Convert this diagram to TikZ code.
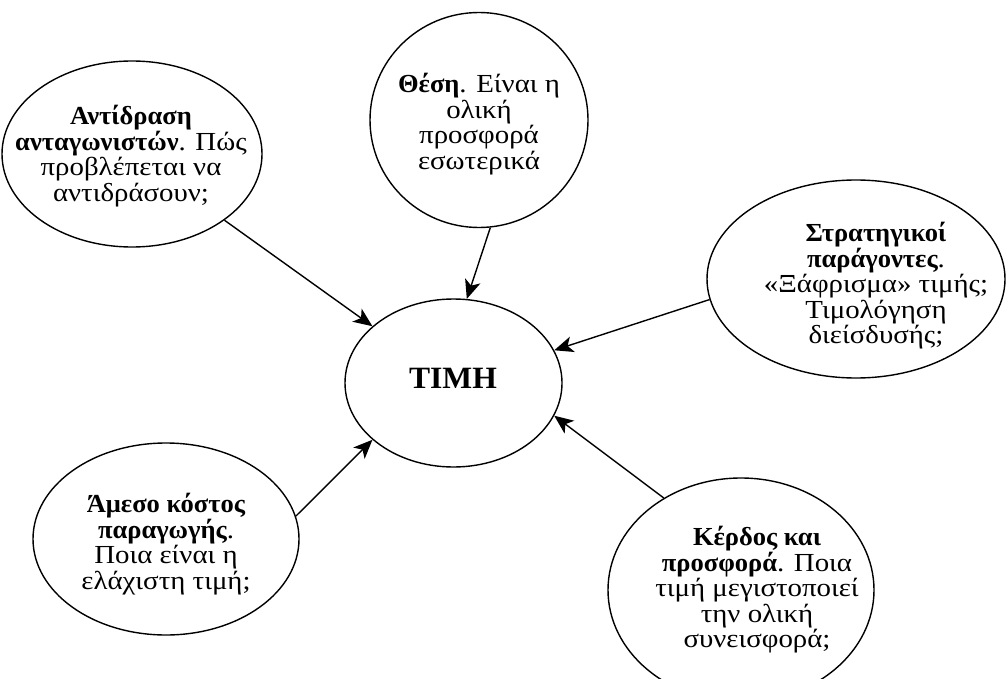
\documentclass[tikz,border=0pt]{standalone}
\usepackage{fontspec}
\setmainfont{Liberation Serif}[UprightFeatures={FakeStretch=1.11},BoldFeatures={FakeStretch=1.02}]
\usetikzlibrary{shapes.geometric,arrows.meta}
\begin{document}
\begin{tikzpicture}[x=1pt,y=-1pt,
  bub/.style={draw, ellipse, line width=1.4pt, inner sep=0pt},
  txt/.style={align=center, font=\fontsize{26}{25.5}\selectfont, inner sep=0pt},
  arr/.style={line width=1.4pt, -{Stealth[length=19pt,width=16pt,inset=5pt]}}]
\useasboundingbox (0,0) rectangle (1008,679);
% bubbles
\node[bub, minimum width=217pt, minimum height=168pt] (T) at (453.5,383) {};
\node[bub, minimum width=260pt, minimum height=186pt] (A) at (132,154) {};
\node[bub, minimum width=218pt, minimum height=215pt] (B) at (479,120) {};
\node[bub, minimum width=298pt, minimum height=198pt] (C) at (856,279) {};
\node[bub, minimum width=266pt, minimum height=192pt] (D) at (166,539) {};
\node[bub, minimum width=266pt, minimum height=224pt] (E) at (741,590) {};
% texts
\node[font=\fontsize{31}{34}\selectfont\bfseries, inner sep=0pt] (Tt) at (453,378) {ΤΙΜΗ};
\node[txt] (At) at (131,156) {\textbf{Αντίδραση}\\\textbf{ανταγωνιστών}. Πώς\\προβλέπεται να\\αντιδράσουν;};
\node[txt] (Bt) at (479,124) {\textbf{Θέση}. Είναι η\\ολική\\προσφορά\\εσωτερικά};
\node[txt] (Ct) at (876,286) {\textbf{Στρατηγικοί}\\\textbf{παράγοντες}.\\«Ξάφρισμα» τιμής;\\Τιμολόγηση\\διείσδυσής;};
\node[txt] (Dt) at (166,544) {\textbf{Άμεσο κόστος}\\\textbf{παραγωγής}.\\Ποια είναι η\\ελάχιστη τιμή;};
\node[txt] (Et) at (757,590) {\textbf{Κέρδος και}\\\textbf{προσφορά}. Ποια\\τιμή μεγιστοποιεί\\την ολική\\συνεισφορά;};
% arrows
\draw[arr] (A) -- (T.145);
\draw[arr] (B.-84) -- (T.81);
\draw[arr] (C.188) -- (T.18);
\draw[arr] (D.10) -- (T.215);
\draw[arr] (E.130) -- (T.342);
\end{tikzpicture}
\end{document}
